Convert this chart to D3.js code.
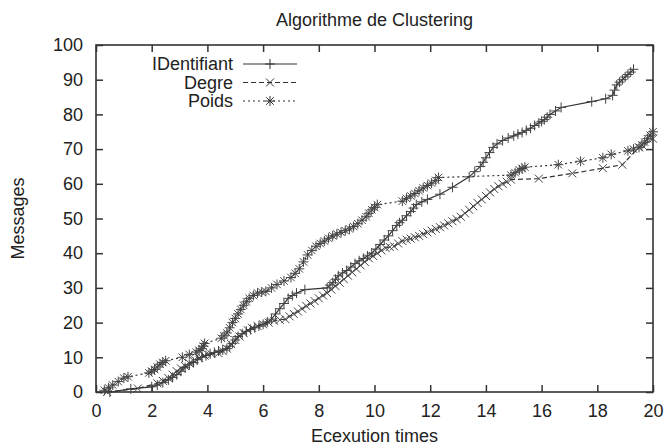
<!DOCTYPE html>
<html>
<head>
<meta charset="utf-8">
<script src="https://cdn.jsdelivr.net/npm/d3@7"></script>
<style>
  body { margin: 0; background: #fff; }
  text { font-family: "Liberation Sans", Arial, sans-serif; fill: #222; }
</style>
</head>
<body>
<div id="main"></div>
<script>
// values: [execution time, messages]
var identifiant = [[0.5,0],[1.25,0.9],[2.0,1.5],[2.2,2],[2.4,2.7],[2.6,3.5],[2.75,4.2],[2.9,5],[3.05,6],[3.2,7],[3.35,7.8],[3.5,8.5],[3.65,9.3],[3.8,10],[3.95,10.5],[4.1,11],[4.25,11.4],[4.4,11.8],[4.55,12.1],[4.7,12.5],[4.8,13.2],[4.9,14],[5.0,15],[5.1,16],[5.25,16.8],[5.4,17.5],[5.55,18],[5.7,18.5],[5.85,19],[6.0,19.5],[6.15,20.2],[6.3,21],[6.45,22.5],[6.6,24],[6.75,25.5],[6.9,27],[7.05,27.8],[7.2,28.5],[7.5,29.5],[8.3,30],[8.4,30.8],[8.5,31.5],[8.6,32.5],[8.7,33.5],[8.85,34.3],[9.0,35],[9.15,36],[9.3,37],[9.45,37.8],[9.6,38.5],[9.75,39.2],[9.9,40],[10.05,41.2],[10.2,42.5],[10.35,43.8],[10.5,45],[10.65,46.5],[10.8,48],[10.9,48.8],[11.0,49.5],[11.15,50.8],[11.3,52],[11.4,53],[11.5,54],[11.7,54.8],[11.9,55.5],[12.35,57],[12.8,59],[13.4,62],[13.6,63.5],[13.8,65],[13.9,66.2],[14.0,67.5],[14.13,69],[14.26,70.5],[14.4,71.5],[14.6,72.5],[14.8,73.2],[15.0,73.8],[15.15,74.3],[15.3,74.8],[15.45,75.4],[15.6,76],[15.75,76.8],[15.9,77.5],[16.0,78],[16.1,78.5],[16.2,79.2],[16.3,80],[16.5,81],[16.7,82],[17.8,83.7],[18.3,84.5],[18.55,85.5],[18.62,87],[18.7,88.5],[18.8,89.3],[18.9,90],[19.0,90.8],[19.1,91.5],[19.2,92.2],[19.3,93]];
var degre = [[0.4,0],[1.5,1],[2.2,2.5],[2.4,3.2],[2.6,4],[2.75,5],[2.9,6],[3.05,6.8],[3.2,7.5],[3.35,8.3],[3.5,9],[3.7,9.8],[3.9,10.5],[4.15,10.9],[4.4,11.2],[4.55,11.8],[4.7,12.5],[4.85,13.8],[5.0,15],[5.15,16],[5.3,17],[5.45,17.8],[5.6,18.5],[5.8,19],[6.0,19.5],[6.2,20],[6.4,20.5],[6.6,20.8],[6.8,21],[6.95,21.8],[7.1,22.5],[7.25,23.2],[7.4,24],[7.55,24.8],[7.7,25.5],[7.85,26.2],[8.0,27],[8.15,27.8],[8.3,28.5],[8.45,29.5],[8.6,30.5],[8.75,31.5],[8.9,32.5],[9.05,33.5],[9.2,34.5],[9.35,35.5],[9.5,36.5],[9.65,37.5],[9.8,38.5],[9.95,39.2],[10.1,40],[10.25,40.8],[10.4,41.5],[10.55,41.8],[10.7,42],[10.85,42.8],[11.0,43.5],[11.15,43.9],[11.3,44.2],[11.45,44.6],[11.6,45],[11.75,45.5],[11.9,46],[12.05,46.5],[12.2,47],[12.35,47.5],[12.5,48],[12.65,48.6],[12.8,49.2],[12.95,49.8],[13.1,50.5],[13.25,51.5],[13.4,52.5],[13.55,53.5],[13.7,54.5],[13.85,55.5],[14.0,56.5],[14.15,57.5],[14.3,58.5],[14.45,59.3],[14.6,60],[14.75,60.6],[14.9,61.2],[15.9,61.5],[17.1,63],[18.2,64.5],[18.9,65.5],[19.5,70.5],[20,73]];
var poids = [[0.3,0.5],[0.45,1.2],[0.6,2],[0.8,3],[1.0,4],[1.15,4.4],[1.9,5.5],[2.0,6],[2.1,6.5],[2.2,7.2],[2.3,8],[2.4,8.5],[2.5,9],[3.1,10],[3.35,10.8],[3.6,11.5],[3.7,12],[3.8,12.5],[3.85,13.2],[3.9,14],[4.5,15.5],[4.6,16.2],[4.7,17],[4.8,18.5],[4.9,20],[5.0,21.2],[5.1,22.5],[5.2,23.8],[5.3,25],[5.4,26],[5.5,27],[5.65,27.8],[5.8,28.5],[5.95,28.8],[6.1,29],[6.3,30],[6.5,31],[6.75,32],[7.0,33],[7.15,34.2],[7.3,35.5],[7.45,37.5],[7.6,39.5],[7.75,40.8],[7.9,42],[8.05,42.8],[8.2,43.5],[8.35,44.3],[8.5,45],[8.65,45.5],[8.8,46],[8.95,46.5],[9.1,47],[9.25,47.7],[9.4,48.5],[9.55,49.5],[9.7,50.5],[9.8,51.5],[9.9,52.5],[10.0,53.2],[10.1,54],[11.0,55],[11.15,55.8],[11.3,56.5],[11.45,57.2],[11.6,58],[11.75,58.8],[11.9,59.5],[12.05,60.2],[12.2,61],[12.3,61.8],[14.9,62.5],[15.05,63.2],[15.2,64],[15.3,64.4],[15.4,64.8],[16.6,65.5],[17.4,66.5],[18.2,67.5],[18.5,68.5],[19.1,69.5],[19.3,70],[19.5,70.5],[19.6,71.2],[19.7,72],[19.8,73],[19.9,74],[20,75]];

var seriesNames = ["IDentifiant", "Degre", "Poids"];
var xTicks = [0, 2, 4, 6, 8, 10, 12, 14, 16, 18, 20];
var yTicks = [0, 10, 20, 30, 40, 50, 60, 70, 80, 90, 100];

var ctx = { w: 664, h: 446, left: 96, right: 653, top: 45, bottom: 392 };

var plusPath = function(s) { return `M${-s},0H${s}M0,${-s}V${s}`; };
var crossPath = function(s) { return `M${-s},${-s}L${s},${s}M${-s},${s}L${s},${-s}`; };
var starPath = function(s) { return plusPath(s) + crossPath(s * 0.75); };

var styles = [
  { data: identifiant, dash: null, marker: plusPath(5) },
  { data: degre, dash: "5,3", marker: crossPath(4) },
  { data: poids, dash: "2,3", marker: starPath(5) }
];

var svg = d3.select("#main").append("svg")
  .attr("width", ctx.w).attr("height", ctx.h);

var x = d3.scaleLinear().domain([0, 20]).range([ctx.left, ctx.right]);
var y = d3.scaleLinear().domain([0, 100]).range([ctx.bottom, ctx.top]);

// ticks inside, mirrored like gnuplot
var g = svg.append("g");
g.append("g").attr("transform", `translate(0,${ctx.bottom})`)
  .call(d3.axisBottom(x).tickValues(xTicks).tickSizeInner(-7).tickSizeOuter(0).tickPadding(12));
g.append("g").attr("transform", `translate(0,${ctx.top})`)
  .call(d3.axisTop(x).tickValues(xTicks).tickSizeInner(-7).tickSizeOuter(0).tickFormat(""));
g.append("g").attr("transform", `translate(${ctx.left},0)`)
  .call(d3.axisLeft(y).tickValues(yTicks).tickSizeInner(-7).tickSizeOuter(0).tickPadding(13));
g.append("g").attr("transform", `translate(${ctx.right},0)`)
  .call(d3.axisRight(y).tickValues(yTicks).tickSizeInner(-7).tickSizeOuter(0).tickFormat(""));
g.selectAll(".domain").remove();
g.selectAll(".tick line").attr("stroke", "#333").attr("stroke-width", 1.5);
g.selectAll(".tick text").style("font-size", "18px").attr("fill", "#222");

g.append("rect")
  .attr("x", ctx.left).attr("y", ctx.top)
  .attr("width", ctx.right - ctx.left).attr("height", ctx.bottom - ctx.top)
  .attr("fill", "none").attr("stroke", "#333").attr("stroke-width", 1.6);

var line = d3.line().x(d => x(d[0])).y(d => y(d[1]));
var plot = svg.append("g");
styles.forEach(function(s) {
  plot.append("path")
    .attr("d", line(s.data))
    .attr("fill", "none").attr("stroke", "#333").attr("stroke-width", 1.2)
    .attr("stroke-dasharray", s.dash);
  plot.selectAll(null).data(s.data).enter().append("path")
    .attr("transform", d => `translate(${x(d[0])},${y(d[1])})`)
    .attr("d", s.marker)
    .attr("fill", "none").attr("stroke", "#444").attr("stroke-width", 1);
});

// legend
var leg = svg.append("g");
seriesNames.forEach(function(name, i) {
  var ly = 64 + i * 18.5;
  leg.append("text").attr("x", 233).attr("y", ly + 6)
    .attr("text-anchor", "end").style("font-size", "18px").text(name);
  leg.append("line").attr("x1", 243).attr("x2", 297).attr("y1", ly).attr("y2", ly)
    .attr("stroke", "#333").attr("stroke-width", 1.1)
    .attr("stroke-dasharray", styles[i].dash);
  leg.append("path").attr("transform", `translate(270,${ly})`)
    .attr("d", styles[i].marker).attr("fill", "none").attr("stroke", "#333");
});

svg.append("text").attr("x", (ctx.left + ctx.right) / 2).attr("y", 26)
  .attr("text-anchor", "middle").style("font-size", "18px").text("Algorithme de Clustering");
svg.append("text").attr("x", (ctx.left + ctx.right) / 2).attr("y", 442)
  .attr("text-anchor", "middle").style("font-size", "18px").text("Ecexution times");
svg.append("text").attr("transform", `translate(24,${(ctx.top + ctx.bottom) / 2}) rotate(-90)`)
  .attr("text-anchor", "middle").style("font-size", "18px").text("Messages");
</script>
</body>
</html>
